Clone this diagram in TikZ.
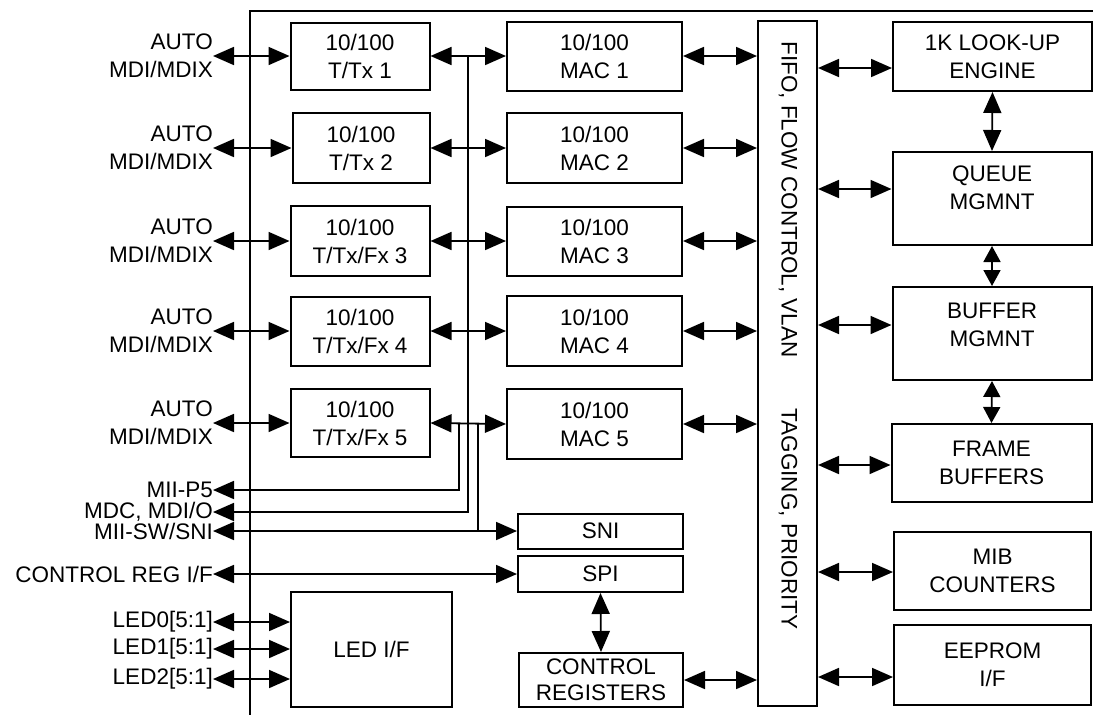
\documentclass[tikz,border=0pt]{standalone}
\usepackage{fontspec}
\setmainfont{Liberation Sans}
\usetikzlibrary{arrows.meta}
\newcommand\diagfont{\fontsize{22.5}{28}\selectfont}
\begin{document}
\begin{tikzpicture}[x=1pt,y=-1pt,
  >={Triangle[length=21pt,width=18pt]},
  box/.style={draw,line width=2pt,align=center,inner sep=0pt,font=\diagfont},
  ln/.style={line width=1.8pt},
  shorttip/.style={{Triangle[length=16pt,width=17pt]}-{Triangle[length=16pt,width=17pt]}},
  lab/.style={anchor=east,align=right,inner sep=0pt,font=\diagfont},
  txt/.style={align=center,inner sep=0pt,font=\diagfont}]
\useasboundingbox[fill=white] (0,0) rectangle (1093,715);
% outer frame
\coordinate (fbl) at (250,715);
\coordinate (ftl) at (250,11);
\coordinate (ftr) at (1093,11);
\draw[ln] (fbl) -- (ftl) -- (ftr);

% T/Tx column
\node[box,minimum width=139pt,minimum height=67pt] (t1) at (360,56) {10/100\\T/Tx 1};
\node[box,minimum width=137pt,minimum height=70pt] (t2) at (361,148) {10/100\\T/Tx 2};
\node[box,minimum width=139pt,minimum height=70pt] (t3) at (360,241) {10/100\\T/Tx/Fx 3};
\node[box,minimum width=139pt,minimum height=69pt] (t4) at (360,331) {10/100\\T/Tx/Fx 4};
\node[box,minimum width=139pt,minimum height=68pt] (t5) at (360,423) {10/100\\T/Tx/Fx 5};

% MAC column
\node[box,minimum width=175pt,minimum height=69pt] (m1) at (594.5,56) {10/100\\MAC 1};
\node[box,minimum width=175pt,minimum height=70pt] (m2) at (594.5,148) {10/100\\MAC 2};
\node[box,minimum width=175pt,minimum height=69pt] (m3) at (594.5,241) {10/100\\MAC 3};
\node[box,minimum width=175pt,minimum height=70pt] (m4) at (594.5,331) {10/100\\MAC 4};
\node[box,minimum width=175pt,minimum height=70pt] (m5) at (594.5,424) {10/100\\MAC 5};

% lower middle blocks
\node[box,minimum width=165pt,minimum height=35pt] (sni) at (600.5,531) {SNI};
\node[box,minimum width=165pt,minimum height=36pt] (spi) at (600.5,574) {SPI};
\node[box,minimum width=164pt,minimum height=54pt,font=\fontsize{22.5}{26}\selectfont] (creg) at (601,680) {CONTROL\\REGISTERS};
\node[box,minimum width=161pt,minimum height=115pt] (led) at (371.5,649.5) {LED I/F};

% FIFO column
\node[box,minimum width=59pt,minimum height=685pt] (fifo) at (787.5,363.5) {};
\node[txt,rotate=-90] (fifot1) at (788,199.5) {FIFO, FLOW CONTROL, VLAN};
\node[txt,rotate=-90] (fifot2) at (788,519) {TAGGING, PRIORITY};

% right column
\node[box,minimum width=199pt,minimum height=69pt] (look) at (992.5,56.5) {1K LOOK-UP\\ENGINE};
\node[box,minimum width=199pt,minimum height=93pt] (queue) at (992,198.5) {};
\node[txt] (queuet) at (992,188) {QUEUE\\MGMNT};
\node[box,minimum width=199pt,minimum height=93pt] (buf) at (992,333.5) {};
\node[txt] (buft) at (992,325) {BUFFER\\MGMNT};
\node[box,minimum width=200pt,minimum height=78pt] (frame) at (991.5,463) {FRAME\\BUFFERS};
\node[box,minimum width=197pt,minimum height=78pt] (mib) at (992.5,571) {MIB\\COUNTERS};
\node[box,minimum width=197pt,minimum height=80pt] (eep) at (992.5,665) {EEPROM\\I/F};

% left labels
\node[lab] (a1) at (213,56) {AUTO\\MDI/MDIX};
\node[lab] (a2) at (213,148) {AUTO\\MDI/MDIX};
\node[lab] (a3) at (213,241) {AUTO\\MDI/MDIX};
\node[lab] (a4) at (213,331) {AUTO\\MDI/MDIX};
\node[lab] (a5) at (213,423) {AUTO\\MDI/MDIX};
\node[lab] (mii) at (213,490) {MII-P5};
\node[lab] (mdc) at (213,512) {MDC, MDI/O};
\node[lab] (sw) at (213,531) {MII-SW/SNI};
\node[lab] (ctl) at (213,574) {CONTROL REG I/F};
\node[lab] (l0) at (213,622) {LED0[5:1]};
\node[lab] (l1) at (213,649) {LED1[5:1]};
\node[lab] (l2) at (213,679) {LED2[5:1]};

% port arrows
\foreach \i in {1,...,5}{
  \draw[ln,<->] (a\i.east) -- (t\i.west);
  \draw[ln,<->] (t\i.east) -- (m\i.west);
  \draw[ln,<->] (m\i.east) -- (m\i.east -| fifo.west);
}

% bus lines
\coordinate (vx1) at (459,0);
\coordinate (vx2) at (468,0);
\coordinate (vx3) at (478,0);
\draw[ln,->] (t1.east -| vx2) |- (mdc.east);
\draw[ln,->] (t5.east -| vx1) |- (mii.east);
\draw[ln] (t5.east -| vx3) -- (sw.east -| vx3);
\draw[ln,<->] (sw.east) -- (sni.west);
\draw[ln,<->] (ctl.east) -- (spi.west);
\draw[ln,<->] (spi.south) -- (creg.north);
\draw[ln,<->] (creg.east) -- (creg.east -| fifo.west);

% LED arrows
\foreach \n in {l0,l1,l2}{
  \draw[ln,<->] (\n.east) -- (\n.east -| led.west);
}

% right side arrows
\coordinate (r1) at (0,68);
\coordinate (r2) at (0,189);
\coordinate (r3) at (0,325);
\coordinate (r4) at (0,465);
\coordinate (r5) at (0,572);
\coordinate (r6) at (0,677);
\draw[ln,<->] (fifo.east |- r1) -- (look.west |- r1);
\draw[ln,<->] (fifo.east |- r2) -- (queue.west |- r2);
\draw[ln,<->] (fifo.east |- r3) -- (buf.west |- r3);
\draw[ln,<->] (fifo.east |- r4) -- (frame.west |- r4);
\draw[ln,<->] (fifo.east |- r5) -- (mib.west |- r5);
\draw[ln,<->] (fifo.east |- r6) -- (eep.west |- r6);
\draw[ln,<->] (look.south) -- (queue.north);
\draw[ln,shorttip] (queue.south) -- (buf.north);
\draw[ln,shorttip] (buf.south) -- (frame.north);
\end{tikzpicture}
\end{document}
